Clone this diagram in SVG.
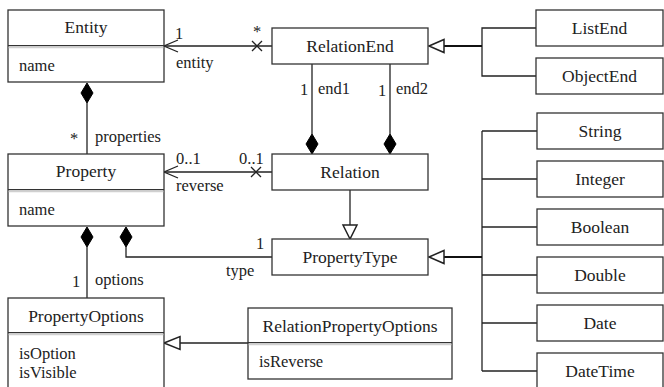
<svg xmlns="http://www.w3.org/2000/svg" width="664" height="387" viewBox="0 0 664 387" style="font-family: 'Liberation Serif', 'DejaVu Serif', serif">
  <defs>
    <style>
      .box { fill: #fff; stroke: #333; stroke-width: 1.3; }
      .sep { stroke: #333; stroke-width: 1.3; }
      .sep2 { stroke: #d0d0d0; stroke-width: 1.5; }
      text { fill: #222; font-family: inherit; font-weight: normal; }
      .name { font-size: 17.5px; text-anchor: middle; }
      .attr { font-size: 16.5px; }
      .lbl { font-size: 16.5px; }
      .ln { fill: none; stroke: #222; stroke-width: 1.3; }
      .thick { fill: none; stroke: #111; stroke-width: 2.2; }
      .tri { fill: #fff; stroke: #222; stroke-width: 1.5; }
      .dia { fill: #000; stroke: #000; stroke-width: 1; }
    </style>
  </defs>

  <!-- connectors -->
  <g id="connectors">
    <!-- RelationEnd -> Entity (entity) -->
    <line class="ln" x1="164" y1="46" x2="272" y2="46"/>
    <polyline class="ln" points="178,40 164,46 178,52"/>
    <path class="ln" d="M252,41 L262,51 M252,51 L262,41"/>

    <!-- Entity <>- Property (properties) -->
    <line class="ln" x1="87" y1="103" x2="87" y2="154"/>
    <polygon class="dia" points="87,83 93,93 87,103 81,93"/>

    <!-- Relation -> Property (reverse) -->
    <line class="ln" x1="164" y1="172" x2="272" y2="172"/>
    <polyline class="ln" points="178,166 164,172 178,178"/>
    <path class="ln" d="M251,167 L261,177 M251,177 L261,167"/>

    <!-- Relation <>- RelationEnd (end1, end2) -->
    <line class="ln" x1="312" y1="64" x2="312" y2="134"/>
    <polygon class="dia" points="312,134 318,144 312,154 306,144"/>
    <line class="ln" x1="390" y1="64" x2="390" y2="134"/>
    <polygon class="dia" points="390,134 396,144 390,154 384,144"/>

    <!-- Relation -|> PropertyType -->
    <line class="ln" x1="350" y1="190" x2="350" y2="225"/>
    <polygon class="tri" points="350,239 343,225 357,225"/>

    <!-- Property <>- PropertyType (type) -->
    <polyline class="ln" points="126,247 126,257 272,257"/>
    <polygon class="dia" points="126,227 132,237 126,247 120,237"/>

    <!-- Property <>- PropertyOptions (options) -->
    <line class="ln" x1="87" y1="247" x2="87" y2="298"/>
    <polygon class="dia" points="87,227 93,237 87,247 81,237"/>

    <!-- RelationPropertyOptions -|> PropertyOptions -->
    <line class="ln" x1="180" y1="343" x2="248" y2="343"/>
    <polygon class="tri" points="164,343 180,336.5 180,349.5"/>

    <!-- ListEnd / ObjectEnd -|> RelationEnd -->
    <polyline class="ln" points="536,28 482,28 482,76 536,76"/>
    <line class="thick" x1="444" y1="46" x2="482" y2="46"/>
    <polygon class="tri" points="429,46 444,39.5 444,52.5"/>

    <!-- primitive types -|> PropertyType -->
    <line class="ln" x1="482" y1="131" x2="482" y2="371"/>
    <line class="ln" x1="482" y1="131" x2="537" y2="131"/>
    <line class="ln" x1="482" y1="179" x2="537" y2="179"/>
    <line class="ln" x1="482" y1="227" x2="537" y2="227"/>
    <line class="ln" x1="482" y1="275" x2="537" y2="275"/>
    <line class="ln" x1="482" y1="323" x2="537" y2="323"/>
    <line class="ln" x1="482" y1="371" x2="537" y2="371"/>
    <line class="thick" x1="444" y1="257" x2="482" y2="257"/>
    <polygon class="tri" points="429,257 444,250.5 444,263.5"/>

    <!-- association labels -->
    <text class="lbl" x="175" y="39">1</text>
    <text class="lbl" x="253" y="37" font-size="14">*</text>
    <text class="lbl" x="176" y="68">entity</text>
    <text class="lbl" x="70" y="144" font-size="14">*</text>
    <text class="lbl" x="95" y="142">properties</text>
    <text class="lbl" x="176" y="164">0..1</text>
    <text class="lbl" x="239" y="164">0..1</text>
    <text class="lbl" x="176" y="191">reverse</text>
    <text class="lbl" x="300" y="95">1</text>
    <text class="lbl" x="318" y="94">end1</text>
    <text class="lbl" x="378" y="96">1</text>
    <text class="lbl" x="396" y="94">end2</text>
    <text class="lbl" x="256" y="249">1</text>
    <text class="lbl" x="226" y="276">type</text>
    <text class="lbl" x="72" y="287">1</text>
    <text class="lbl" x="95" y="285">options</text>
  </g>

  <g id="Entity">
    <rect class="box" x="8" y="10" width="156" height="72"/>
    <line class="sep" x1="8" y1="45.7" x2="164" y2="45.7"/>
    <line class="sep2" x1="8.7" y1="47.6" x2="163.3" y2="47.6"/>
    <text class="name" x="86" y="33">Entity</text>
    <text class="attr" x="19" y="71">name</text>
  </g>

  <g id="RelationEnd">
    <rect class="box" x="272" y="28" width="156" height="36"/>
    <text class="name" x="350" y="51.5">RelationEnd</text>
  </g>

  <g id="ListEnd">
    <rect class="box" x="536" y="10" width="127" height="36"/>
    <text class="name" x="599.5" y="33.5">ListEnd</text>
  </g>

  <g id="ObjectEnd">
    <rect class="box" x="536" y="58" width="127" height="36"/>
    <text class="name" x="599.5" y="81.5">ObjectEnd</text>
  </g>

  <g id="Property">
    <rect class="box" x="8" y="154" width="156" height="72"/>
    <line class="sep" x1="8" y1="189.7" x2="164" y2="189.7"/>
    <line class="sep2" x1="8.7" y1="191.6" x2="163.3" y2="191.6"/>
    <text class="name" x="86" y="177">Property</text>
    <text class="attr" x="19" y="215">name</text>
  </g>

  <g id="Relation">
    <rect class="box" x="272" y="154" width="156" height="36"/>
    <text class="name" x="350" y="177.5">Relation</text>
  </g>

  <g id="PropertyType">
    <rect class="box" x="272" y="239" width="156" height="36"/>
    <text class="name" x="350" y="262.5">PropertyType</text>
  </g>

  <g id="String">
    <rect class="box" x="537" y="113" width="126" height="36"/>
    <text class="name" x="600" y="136.5">String</text>
  </g>

  <g id="Integer">
    <rect class="box" x="537" y="161" width="126" height="36"/>
    <text class="name" x="600" y="184.5">Integer</text>
  </g>

  <g id="Boolean">
    <rect class="box" x="537" y="209" width="126" height="36"/>
    <text class="name" x="600" y="232.5">Boolean</text>
  </g>

  <g id="Double">
    <rect class="box" x="537" y="257" width="126" height="36"/>
    <text class="name" x="600" y="280.5">Double</text>
  </g>

  <g id="Date">
    <rect class="box" x="537" y="305" width="126" height="36"/>
    <text class="name" x="600" y="328.5">Date</text>
  </g>

  <g id="DateTime">
    <rect class="box" x="537" y="353" width="126" height="36"/>
    <text class="name" x="600" y="376.5">DateTime</text>
  </g>

  <g id="PropertyOptions">
    <rect class="box" x="8" y="298" width="156" height="95"/>
    <line class="sep" x1="8" y1="332.7" x2="164" y2="332.7"/>
    <line class="sep2" x1="8.7" y1="334.6" x2="163.3" y2="334.6"/>
    <text class="name" x="86" y="322">PropertyOptions</text>
    <text class="attr" x="19" y="359">isOption</text>
    <text class="attr" x="19" y="378">isVisible</text>
  </g>

  <g id="RelationPropertyOptions">
    <rect class="box" x="248" y="308" width="204" height="71"/>
    <line class="sep" x1="248" y1="342.7" x2="452" y2="342.7"/>
    <line class="sep2" x1="248.7" y1="344.6" x2="451.3" y2="344.6"/>
    <text class="name" x="350" y="332">RelationPropertyOptions</text>
    <text class="attr" x="259" y="367">isReverse</text>
  </g>
</svg>
